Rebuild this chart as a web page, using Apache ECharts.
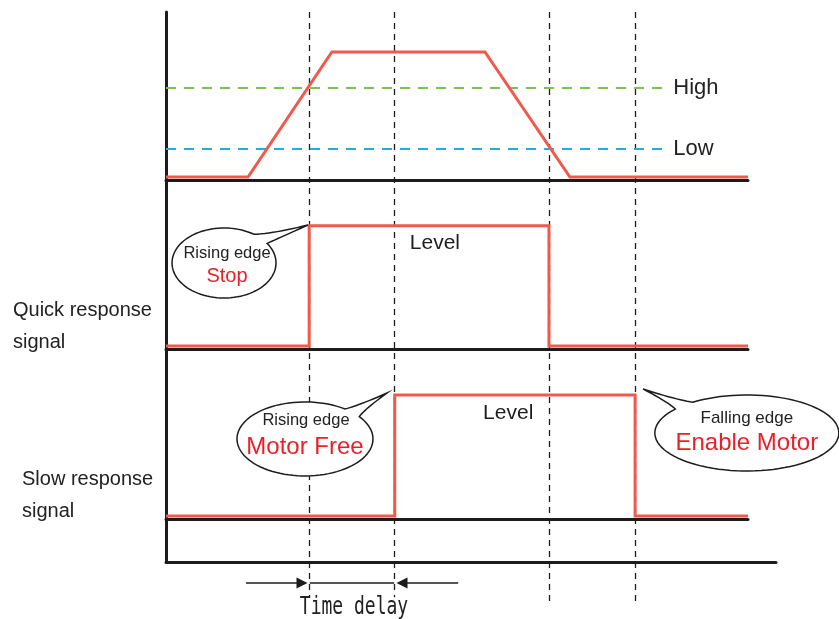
<!DOCTYPE html>
<html><head><meta charset="utf-8">
<script src="https://cdn.jsdelivr.net/npm/echarts@6/dist/echarts.min.js"></script>
<style>html,body{margin:0;padding:0;background:#fff}#c{width:839px;height:619px}</style>
</head><body><div id="c"></div>
<script>
// ---- data (time axis in arbitrary units, levels 0..10) ----
const edgeTimes = [24.6, 39.3, 65.8, 80.6];          // quick rise, slow rise, quick fall, slow fall
const edgeLineBottoms = [3.6, 3.6, 2.3, 2.3];        // lower end of each dashed marker (overlay units)
const analogT = [0, 14.1, 28.5, 54.8, 69.4, 100];
const analogV = [0.18, 0.18, 7.62, 7.62, 0.18, 0.18];
const quickT = [0, 24.6, 24.6, 65.8, 65.8, 100];
const quickV = [0.18, 0.18, 7.3, 7.3, 0.18, 0.18];
const slowT = [0, 39.3, 39.3, 80.6, 80.6, 100];
const slowV = [0.18, 0.18, 7.3, 7.3, 0.18, 0.18];
const thresholdNames = ['High', 'Low'];
const thresholdValues = [5.48, 1.85];
const thresholdEnd = 86.3;
const signalNames = ['Quick response\nsignal', 'Slow response\nsignal'];
const levelLabel = 'Level';
const levelPos = [[46.2, 6.27], [58.8, 6.24]];
const bubbleTexts = [['Rising edge', 'Stop'], ['Rising edge', 'Motor Free'], ['Falling edge', 'Enable Motor']];
const bubbleCenters = [[9.97, 5.09], [23.88, 4.71], [99.8, 5.06]];
const bubbleTips = [[24.4, 7.34], [37.97, 7.41], [81.96, 7.65]];
const delayLabel = 'Time delay';
const delayArrowY = 5.93;
const delayArrowFrom = [13.75, 50.2];
const delayArrowTo = [23.37, 40.55];
const delaySpan = [24.7, 39.2];
const delayLabelPos = [32.3, 1.85];

// ---- layout / style ----
const FONT = 'Liberation Sans';
const RED = '#ef5a4c';
const INK = '#1c1c1c';
const bubbleLayout = [
  {grid: 1, r: [52, 35], gap: [-55, -34], o1: [3, -10], o2: [3, 14], s1: 16.5, s2: 20},
  {grid: 2, r: [68, 37], gap: [-54, -37], o1: [1, -18], o2: [0, 8], s1: 16.5, s2: 24},
  {grid: 2, r: [92, 38], gap: [219, 234], o1: [0, -15], o2: [0, 10], s1: 17, s2: 24}
];

const chart = echarts.init(document.getElementById('c'), null, {renderer: 'canvas'});
const axisLine = {show: true, onZero: false, lineStyle: {color: INK, width: 3}};
const hidden = {axisTick: {show: false}, axisLabel: {show: false}, splitLine: {show: false}};

const grids = [
  {left: 166, top: 12, width: 582, height: 168},
  {left: 166, top: 180, width: 582, height: 169},
  {left: 166, top: 349, width: 582, height: 170},
  {left: 166, top: 519, width: 610, height: 43},
  {left: 166, top: 12, width: 582, height: 607}
];
const xAxes = grids.map((g, i) => Object.assign({type: 'value', gridIndex: i, min: 0,
  max: i === 3 ? 610 / 5.82 : 100, show: i !== 4, axisLine: axisLine}, hidden));
const yAxes = grids.map((g, i) => Object.assign({type: 'value', gridIndex: i, min: 0,
  max: i === 4 ? 100 : 10, show: i !== 4, axisLine: axisLine}, hidden));

const zip = (a, b) => a.map((v, i) => [v, b[i]]);
const series = [];

// dashed time markers
series.push({
  type: 'lines', coordinateSystem: 'cartesian2d', xAxisIndex: 4, yAxisIndex: 4, z: 1, silent: true,
  lineStyle: {color: INK, width: 1.3, type: [6, 5], opacity: 1},
  data: edgeTimes.map((t, i) => ({coords: [[t, 100], [t, edgeLineBottoms[i]]]}))
});

// thresholds
const thrColors = ['#7cc24b', '#1aaeea'];
thresholdNames.forEach((n, i) => {
  series.push({
    type: 'line', xAxisIndex: 0, yAxisIndex: 0, symbol: 'none', silent: true, z: 2,
    data: [[0, thresholdValues[i]], [thresholdEnd, thresholdValues[i]]],
    lineStyle: {color: thrColors[i], width: 2, type: [10, 8]},
    endLabel: {show: true, formatter: n, fontSize: 22, color: '#222', fontFamily: FONT, distance: 5}
  });
});

// signals
[[analogT, analogV, 0], [quickT, quickV, 1], [slowT, slowV, 2]].forEach(([t, v, g]) => {
  series.push({
    type: 'line', xAxisIndex: g, yAxisIndex: g, symbol: 'none', silent: true, z: 3,
    data: zip(t, v), lineStyle: {color: RED, width: 3, join: 'miter'}
  });
});

// Level labels
levelPos.forEach((p, i) => {
  series.push({
    type: 'custom', xAxisIndex: i + 1, yAxisIndex: i + 1, silent: true, z: 4,
    data: [p],
    renderItem(params, api) {
      const q = api.coord([api.value(0), api.value(1)]);
      return {type: 'text', x: q[0], y: q[1],
        style: {text: levelLabel, fontSize: 21, fontFamily: FONT, fill: '#1e1e1e', align: 'center', verticalAlign: 'middle'}};
    }
  });
});

// speech bubbles
bubbleLayout.forEach((b, i) => {
  series.push({
    type: 'custom', xAxisIndex: b.grid, yAxisIndex: b.grid, silent: true, clip: false, z: 6,
    data: [[bubbleCenters[i][0], bubbleCenters[i][1], bubbleTips[i][0], bubbleTips[i][1]]],
    renderItem(params, api) {
      const c = api.coord([api.value(0), api.value(1)]);
      const t = api.coord([api.value(2), api.value(3)]);
      const pts = [];
      const a0 = b.gap[1], a1 = b.gap[0] + 360, N = 90;
      for (let k = 0; k <= N; k++) {
        const a = (a0 + (a1 - a0) * k / N) * Math.PI / 180;
        pts.push([c[0] + b.r[0] * Math.cos(a), c[1] + b.r[1] * Math.sin(a)]);
      }
      const pS = pts[pts.length - 1], pE = pts[0];
      const quad = (p0, p1, ctl) => {
        for (let k = 1; k <= 12; k++) {
          const u = k / 12;
          pts.push([(1-u)*(1-u)*p0[0] + 2*(1-u)*u*ctl[0] + u*u*p1[0],
                    (1-u)*(1-u)*p0[1] + 2*(1-u)*u*ctl[1] + u*u*p1[1]]);
        }
      };
      const bend = (p0, p1) => {
        const m = [(p0[0] + p1[0]) / 2, (p0[1] + p1[1]) / 2];
        return [m[0] + (c[0] - m[0]) * 0.12, m[1] + (c[1] - m[1]) * 0.12];
      };
      quad(pS, t, bend(pS, t));
      quad(t, pE, bend(t, pE));
      return {type: 'group', children: [
        {type: 'polygon', shape: {points: pts}, style: {fill: '#fff', stroke: INK, lineWidth: 1.5}},
        {type: 'text', x: c[0] + b.o1[0], y: c[1] + b.o1[1],
          style: {text: bubbleTexts[i][0], fontSize: b.s1, fontFamily: FONT, fill: '#222', align: 'center', verticalAlign: 'middle'}},
        {type: 'text', x: c[0] + b.o2[0], y: c[1] + b.o2[1],
          style: {text: bubbleTexts[i][1], fontSize: b.s2, fontFamily: FONT, fill: '#ea1f27', align: 'center', verticalAlign: 'middle'}}
      ]};
    }
  });
});

// time delay arrows
series.push({
  type: 'line', xAxisIndex: 4, yAxisIndex: 4, data: [], silent: true, z: 5,
  markLine: {
    silent: true, animation: false, label: {show: false},
    lineStyle: {color: INK, width: 1.6, type: 'solid'},
    data: [
      [{coord: [delayArrowFrom[0], delayArrowY], symbol: 'none'}, {coord: [delayArrowTo[0], delayArrowY], symbol: 'triangle', symbolSize: 11}],
      [{coord: [delayArrowFrom[1], delayArrowY], symbol: 'none'}, {coord: [delayArrowTo[1], delayArrowY], symbol: 'triangle', symbolSize: 11}],
      [{coord: [delaySpan[0], delayArrowY], symbol: 'none'}, {coord: [delaySpan[1], delayArrowY], symbol: 'none'}]
    ]
  }
});

// time delay label (tall monospace look)
series.push({
  type: 'custom', xAxisIndex: 4, yAxisIndex: 4, silent: true, clip: false, z: 5,
  data: [delayLabelPos],
  renderItem(params, api) {
    const p = api.coord([api.value(0), api.value(1)]);
    return {type: 'text', x: p[0], y: p[1], scaleY: 1.35,
      style: {text: delayLabel, fontSize: 18, fontFamily: 'DejaVu Sans Mono', fill: '#222', align: 'center', verticalAlign: 'middle'}};
  }
});

chart.setOption({
  animation: false,
  backgroundColor: '#fff',
  title: [
    {text: signalNames[0], left: 13, top: 294, padding: 0, textStyle: {fontSize: 20, fontWeight: 'normal', color: '#222', lineHeight: 32, fontFamily: FONT}},
    {text: signalNames[1], left: 22, top: 463, padding: 0, textStyle: {fontSize: 20, fontWeight: 'normal', color: '#222', lineHeight: 32, fontFamily: FONT}}
  ],
  grid: grids,
  xAxis: xAxes,
  yAxis: yAxes,
  series: series
});
</script></body></html>
